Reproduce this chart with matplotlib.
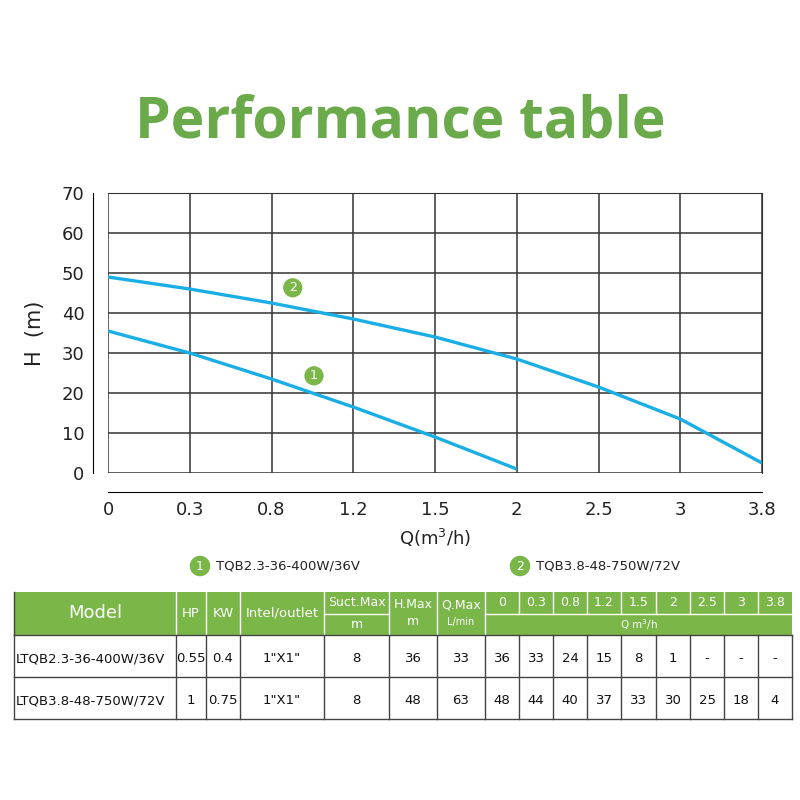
import matplotlib.pyplot as plt
from matplotlib.patches import Rectangle

GREEN = "#7ab648"
BLUE = "#1aaee6"
GRID = "#333333"

# ---- data ----
q_labels = ["0", "0.3", "0.8", "1.2", "1.5", "2", "2.5", "3", "3.8"]
curve1_h = [35.5, 30, 23.5, 16.5, 9, 1]
curve2_h = [49, 46, 42.5, 38.5, 34, 28.5, 21.5, 13.5, 2.5]
models = ["LTQB2.3-36-400W/36V", "LTQB3.8-48-750W/72V"]
legend_names = ["TQB2.3-36-400W/36V", "TQB3.8-48-750W/72V"]
hp = ["0.55", "1"]
kw = ["0.4", "0.75"]
inlet = ['1"X1"', '1"X1"']
suct = ["8", "8"]
hmax = ["36", "48"]
qmax = ["33", "63"]
row1_h = ["36", "33", "24", "15", "8", "1", "-", "-", "-"]
row2_h = ["48", "44", "40", "37", "33", "30", "25", "18", "4"]

W = H = 800
fig = plt.figure(figsize=(8, 8), dpi=100)


def fx(px):
    return px / W


def fy(py):
    return 1 - py / H


fig.text(0.5, fy(122), "Performance table", ha="center", va="center",
         fontsize=41, fontweight="bold", color="#6aaa4a", family="Open Sans")

# ---- chart ----
ax = fig.add_axes([fx(108), fy(473), fx(762) - fx(108), fy(193) - fy(473)])
xs = list(range(len(q_labels)))
ax.plot(xs[:len(curve1_h)], curve1_h, color=BLUE, lw=2.4, solid_capstyle="butt")
ax.plot(xs, curve2_h, color=BLUE, lw=2.4, solid_capstyle="butt")
ax.set_xlim(0, len(q_labels) - 1)
ax.set_ylim(0, 70)
ax.set_xticks(xs)
ax.set_xticklabels(q_labels)
ax.set_yticks(range(0, 71, 10))
ax.grid(True, color=GRID, lw=1.1)
ax.tick_params(length=0, labelsize=13, colors="#222")
ax.tick_params(axis="x", pad=6)
ax.tick_params(axis="y", pad=6)
for s in ["top", "right"]:
    ax.spines[s].set_color(GRID)
ax.spines["left"].set_position(("outward", 11))
ax.spines["bottom"].set_position(("outward", 14))
ax.set_xlabel("Q(m$^3$/h)", fontsize=13, labelpad=6, color="#222")
ax.set_ylabel("H  (m)", fontsize=15, labelpad=12, color="#222")
ax.set_axisbelow(True)

for num, (x, y) in zip(["2", "1"], [(2.26, 46.3), (2.52, 24.3)]):
    ax.text(x, y, num, ha="center", va="center", color="white", fontsize=9,
            bbox=dict(boxstyle="circle,pad=0.25", fc=GREEN, ec="none"))

# ---- legend ----
for i, (cx, name) in enumerate(zip([200, 520], legend_names)):
    fig.text(fx(cx), fy(566), str(i + 1), ha="center", va="center",
             color="white", fontsize=9,
             bbox=dict(boxstyle="circle,pad=0.3", fc=GREEN, ec="none"))
    fig.text(fx(cx + 16), fy(566), name, ha="left", va="center",
             fontsize=9.5, color="#222")

# ---- table ----
tax = fig.add_axes([0, 0, 1, 1])
tax.set_xlim(0, W)
tax.set_ylim(H, 0)
tax.axis("off")

cols = [14, 176, 206, 240, 324, 389, 437, 485, 519, 553, 587, 621, 656, 690, 724, 758, 792]
top, mid, hdr, r1, r2 = 592, 614, 635, 677, 719

tax.add_patch(Rectangle((cols[0], top), cols[-1] - cols[0], hdr - top,
                        fc=GREEN, ec="none"))
# white lines in header
for x in cols[1:-1]:
    tax.plot([x, x], [top, hdr if x <= 485 else mid], color="white", lw=1)
tax.plot([cols[4], cols[5]], [mid, mid], color="white", lw=1)
tax.plot([cols[7], cols[-1]], [mid, mid], color="white", lw=1)

# body lines
for x in cols:
    tax.plot([x, x], [hdr, r2], color="#444", lw=1)
for y in [hdr, r1, r2]:
    tax.plot([cols[0], cols[-1]], [y, y], color="#444", lw=1)
tax.plot([cols[0], cols[0]], [top, hdr], color="#444", lw=1)

hc = dict(color="white", ha="center", va="center")
tax.text((cols[0] + cols[1]) / 2, (top + hdr) / 2, "Model", fontsize=13, **hc)
tax.text((cols[1] + cols[2]) / 2, (top + hdr) / 2, "HP", fontsize=9.5, **hc)
tax.text((cols[2] + cols[3]) / 2, (top + hdr) / 2, "KW", fontsize=9.5, **hc)
tax.text((cols[3] + cols[4]) / 2, (top + hdr) / 2, "Intel/outlet", fontsize=9.5, **hc)
tax.text((cols[4] + cols[5]) / 2, (top + mid) / 2, "Suct.Max", fontsize=9, **hc)
tax.text((cols[4] + cols[5]) / 2, (mid + hdr) / 2, "m", fontsize=9, **hc)
tax.text((cols[5] + cols[6]) / 2, (top + mid) / 2 + 2, "H.Max", fontsize=9, **hc)
tax.text((cols[5] + cols[6]) / 2, (mid + hdr) / 2 - 3, "m", fontsize=9, **hc)
tax.text((cols[6] + cols[7]) / 2, (top + mid) / 2 + 2, "Q.Max", fontsize=9, **hc)
tax.text((cols[6] + cols[7]) / 2, (mid + hdr) / 2 - 3, "L/min", fontsize=7, **hc)
for i, lab in enumerate(q_labels):
    tax.text((cols[7 + i] + cols[8 + i]) / 2, (top + mid) / 2, lab, fontsize=9, **hc)
tax.text((cols[7] + cols[-1]) / 2, (mid + hdr) / 2, "Q m$^3$/h", fontsize=7.5, **hc)

bc = dict(color="#111", ha="center", va="center", fontsize=9.5)
for yc, vals in zip([(hdr + r1) / 2, (r1 + r2) / 2],
                    [[models[0], hp[0], kw[0], inlet[0], suct[0], hmax[0], qmax[0]] + row1_h,
                     [models[1], hp[1], kw[1], inlet[1], suct[1], hmax[1], qmax[1]] + row2_h]):
    for j, v in enumerate(vals):
        if j == 0:
            tax.text(cols[0] + 2, yc + 3, v, color="#111", ha="left", va="center", fontsize=9.5)
        else:
            tax.text((cols[j] + cols[j + 1]) / 2, yc + 3, v, **bc)

fig.savefig("out.png", dpi=100, facecolor="white")
